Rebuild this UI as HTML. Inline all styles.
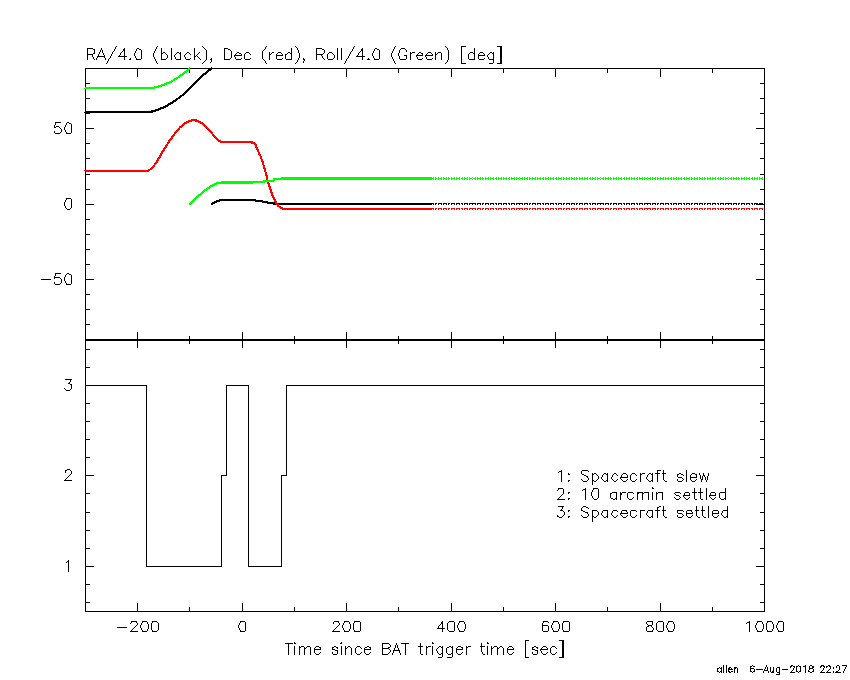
<!DOCTYPE html>
<html><head><meta charset="utf-8"><title>Spacecraft attitude</title>
<style>html,body{margin:0;padding:0;background:#fff}body{width:850px;height:680px;overflow:hidden;font-family:"Liberation Sans",sans-serif}svg{display:block}</style></head>
<body>
<svg role="img" aria-label="RA/4.0 (black), Dec (red), Roll/4.0 (Green) [deg] and spacecraft slew/settled flags versus time since BAT trigger time [sec]" width="850" height="680" viewBox="0 0 850 680" shape-rendering="crispEdges" fill="none" stroke-width="1">
<rect width="850" height="680" fill="#ffffff" stroke="none"/>
<path stroke="#000000" d="M116 46.5h1M157 46.5h1M202 46.5h1M266 46.5h1M295 46.5h1M354 46.5h1M395 46.5h1M445 46.5h1M462 46.5h4M497 46.5h3M203 47.5h1M296 47.5h1M446 47.5h1M88 48.5h5M137 48.5h2M204 48.5h1M225 48.5h3M317 48.5h5M375 48.5h2M401 48.5h4M93 49.5h1M123 49.5h1M139 49.5h2M205 49.5h1M228 49.5h2M264 49.5h1M322 49.5h2M361 49.5h1M377 49.5h2M400 49.5h1M405 49.5h1M123 50.5h1M230 50.5h1M263 50.5h1M361 50.5h1M113 51.5h1M122 51.5h1M351 51.5h1M360 51.5h1M121 52.5h1M163 52.5h2M177 52.5h2M187 52.5h2M199 52.5h1M237 52.5h2M246 52.5h3M272 52.5h2M278 52.5h3M288 52.5h2M329 52.5h3M359 52.5h1M412 52.5h3M419 52.5h2M428 52.5h3M438 52.5h3M470 52.5h3M480 52.5h3M490 52.5h2M93 53.5h1M162 53.5h1M165 53.5h1M176 53.5h1M179 53.5h1M186 53.5h1M189 53.5h1M198 53.5h1M236 53.5h1M239 53.5h2M245 53.5h1M249 53.5h1M271 53.5h1M277 53.5h1M281 53.5h1M287 53.5h1M290 53.5h1M323 53.5h1M328 53.5h1M332 53.5h1M411 53.5h1M418 53.5h1M421 53.5h1M427 53.5h1M431 53.5h1M437 53.5h1M469 53.5h1M473 53.5h1M479 53.5h1M483 53.5h1M489 53.5h1M492 53.5h1M88 54.5h5M166 54.5h1M175 54.5h1M185 54.5h1M190 54.5h1M197 54.5h1M250 54.5h1M270 54.5h1M286 54.5h1M317 54.5h6M333 54.5h1M436 54.5h1M488 54.5h1M196 55.5h1M234 55.5h8M276 55.5h7M404 55.5h2M416 55.5h7M425 55.5h8M478 55.5h7M97 56.5h8M118 56.5h6M125 56.5h2M195 56.5h1M197 56.5h1M356 56.5h6M363 56.5h2M198 57.5h1M109 58.5h1M166 58.5h1M190 58.5h1M199 58.5h1M230 58.5h1M241 58.5h1M250 58.5h1M282 58.5h1M323 58.5h1M333 58.5h1M347 58.5h1M422 58.5h1M432 58.5h1M484 58.5h1M94 59.5h1M129 59.5h2M136 59.5h5M162 59.5h4M176 59.5h4M186 59.5h4M200 59.5h1M210 59.5h1M225 59.5h5M236 59.5h5M245 59.5h5M263 59.5h1M277 59.5h5M286 59.5h5M303 59.5h2M324 59.5h1M328 59.5h5M367 59.5h3M374 59.5h5M400 59.5h6M418 59.5h4M427 59.5h5M469 59.5h5M479 59.5h5M489 59.5h4M205 60.5h1M264 60.5h1M204 61.5h1M203 62.5h1M210 62.5h1M296 62.5h1M446 62.5h1M106 63.5h1M157 63.5h1M202 63.5h1M266 63.5h1M295 63.5h1M344 63.5h1M395 63.5h1M445 63.5h1M462 63.5h4M489 63.5h4M497 63.5h3M85 68.5h103M190 68.5h575M208 69.5h4M207 70.5h4M206 71.5h2M205 72.5h3M203 73.5h4M202 74.5h4M201 75.5h3M200 76.5h3M199 77.5h3M198 78.5h3M197 79.5h3M196 80.5h3M195 81.5h3M194 82.5h3M86 83.5h4M193 83.5h3M760 83.5h4M192 84.5h3M191 85.5h3M190 86.5h3M189 87.5h3M188 88.5h3M187 89.5h3M186 90.5h3M185 91.5h3M184 92.5h3M183 93.5h3M182 94.5h3M180 95.5h4M179 96.5h3M178 97.5h3M86 98.5h4M176 98.5h4M760 98.5h4M175 99.5h3M173 100.5h4M172 101.5h4M170 102.5h4M168 103.5h5M167 104.5h4M165 105.5h4M163 106.5h5M160 107.5h6M158 108.5h6M155 109.5h6M151 110.5h8M86 111.5h70M84 112.5h1M86 112.5h67M86 113.5h4M760 113.5h4M55 122.5h6M67 122.5h2M69 123.5h2M56 126.5h3M55 127.5h1M59 127.5h1M60 128.5h1M86 128.5h8M756 128.5h8M60 132.5h1M55 133.5h5M66 133.5h5M86 143.5h4M760 143.5h4M86 158.5h4M760 158.5h4M86 174.5h4M760 174.5h4M86 189.5h4M760 189.5h4M66 198.5h5M219 199.5h37M216 200.5h47M214 201.5h6M255 201.5h13M212 202.5h5M262 202.5h13M211 203.5h4M267 203.5h8M278 203.5h156M435 203.5h2M438 203.5h4M443 203.5h4M448 203.5h2M451 203.5h4M456 203.5h4M461 203.5h2M464 203.5h4M469 203.5h7M477 203.5h4M482 203.5h2M485 203.5h4M490 203.5h4M495 203.5h2M498 203.5h4M503 203.5h4M508 203.5h2M511 203.5h4M516 203.5h7M524 203.5h4M529 203.5h2M532 203.5h4M537 203.5h4M542 203.5h2M545 203.5h4M550 203.5h4M555 203.5h2M558 203.5h4M563 203.5h2M566 203.5h4M571 203.5h4M576 203.5h2M579 203.5h4M584 203.5h4M589 203.5h2M592 203.5h4M597 203.5h7M605 203.5h4M610 203.5h2M613 203.5h4M618 203.5h4M623 203.5h2M626 203.5h4M631 203.5h4M636 203.5h2M639 203.5h4M644 203.5h7M652 203.5h4M657 203.5h2M660 203.5h4M665 203.5h4M670 203.5h2M673 203.5h4M678 203.5h4M683 203.5h2M686 203.5h4M691 203.5h2M694 203.5h4M699 203.5h4M704 203.5h2M707 203.5h4M712 203.5h4M717 203.5h2M720 203.5h4M725 203.5h7M733 203.5h4M738 203.5h2M741 203.5h4M746 203.5h4M751 203.5h2M754 203.5h4M759 203.5h4M86 204.5h8M211 204.5h1M273 204.5h3M279 204.5h153M756 204.5h8M66 208.5h1M70 208.5h1M67 209.5h3M86 219.5h4M760 219.5h4M86 234.5h4M760 234.5h4M86 249.5h4M760 249.5h4M86 264.5h4M760 264.5h4M55 273.5h6M67 273.5h2M66 274.5h1M69 274.5h2M54 277.5h6M60 278.5h1M41 279.5h10M86 279.5h8M756 279.5h8M60 283.5h1M55 284.5h5M66 284.5h5M86 294.5h4M760 294.5h4M86 309.5h4M760 309.5h4M86 324.5h4M760 324.5h4M85 339.5h680M85 340.5h680M86 349.5h4M760 349.5h4M86 367.5h4M760 367.5h4M65 379.5h7M68 383.5h2M70 384.5h1M86 385.5h60M227 385.5h21M286 385.5h478M64 388.5h1M65 389.5h1M70 389.5h1M66 390.5h4M86 403.5h4M760 403.5h4M86 421.5h4M760 421.5h4M86 439.5h4M760 439.5h4M86 457.5h4M760 457.5h4M67 469.5h3M66 470.5h1M70 470.5h1M582 470.5h6M658 470.5h3M559 471.5h2M588 471.5h1M558 472.5h1M594 473.5h2M604 473.5h2M614 473.5h2M623 473.5h3M632 473.5h3M642 473.5h3M649 473.5h2M655 473.5h2M658 473.5h2M662 473.5h1M664 473.5h2M679 473.5h2M692 473.5h3M70 474.5h1M568 474.5h2M582 474.5h2M593 474.5h1M596 474.5h1M603 474.5h1M606 474.5h1M613 474.5h1M616 474.5h1M622 474.5h1M626 474.5h1M631 474.5h1M635 474.5h1M641 474.5h1M648 474.5h1M651 474.5h1M678 474.5h1M681 474.5h2M691 474.5h1M695 474.5h1M69 475.5h1M86 475.5h8M222 475.5h4M282 475.5h4M584 475.5h2M597 475.5h1M617 475.5h1M636 475.5h1M683 475.5h1M704 475.5h1M756 475.5h8M68 476.5h1M586 476.5h2M67 477.5h1M620 477.5h8M678 477.5h4M690 477.5h7M66 478.5h1M682 478.5h1M581 479.5h1M597 479.5h1M602 479.5h1M612 479.5h1M617 479.5h1M621 479.5h1M627 479.5h1M636 479.5h1M647 479.5h1M683 479.5h1M696 479.5h1M64 480.5h8M568 480.5h2M582 480.5h1M587 480.5h1M593 480.5h1M596 480.5h1M603 480.5h1M606 480.5h1M613 480.5h1M616 480.5h1M622 480.5h1M626 480.5h1M631 480.5h1M635 480.5h1M648 480.5h1M651 480.5h1M664 480.5h1M682 480.5h1M691 480.5h1M695 480.5h1M583 481.5h4M594 481.5h2M604 481.5h2M614 481.5h2M623 481.5h3M632 481.5h3M649 481.5h2M665 481.5h2M678 481.5h4M692 481.5h3M558 488.5h5M593 488.5h5M652 488.5h2M583 489.5h2M557 490.5h1M582 490.5h1M568 492.5h2M612 492.5h4M622 492.5h4M628 492.5h5M638 492.5h4M644 492.5h4M658 492.5h4M675 492.5h5M685 492.5h4M692 492.5h2M695 492.5h2M698 492.5h2M701 492.5h2M711 492.5h4M720 492.5h5M86 493.5h4M611 493.5h1M621 493.5h1M633 493.5h1M638 493.5h1M643 493.5h1M657 493.5h1M674 493.5h1M680 493.5h1M760 493.5h4M562 494.5h1M621 494.5h1M675 494.5h1M561 495.5h1M676 495.5h3M683 495.5h7M709 495.5h7M560 496.5h1M679 496.5h1M559 497.5h1M633 497.5h1M674 497.5h1M680 497.5h1M684 497.5h1M689 497.5h1M710 497.5h1M715 497.5h1M568 498.5h2M593 498.5h1M597 498.5h1M611 498.5h2M615 498.5h1M628 498.5h1M632 498.5h1M675 498.5h1M679 498.5h1M685 498.5h1M688 498.5h1M711 498.5h1M714 498.5h1M720 498.5h1M724 498.5h1M557 499.5h8M594 499.5h3M613 499.5h2M629 499.5h3M676 499.5h3M686 499.5h2M695 499.5h2M701 499.5h2M712 499.5h2M721 499.5h3M558 506.5h6M583 506.5h3M659 506.5h2M582 507.5h1M586 507.5h2M658 507.5h1M588 508.5h1M560 510.5h3M568 510.5h2M582 510.5h1M593 510.5h4M603 510.5h4M613 510.5h4M622 510.5h5M631 510.5h5M641 510.5h4M648 510.5h4M655 510.5h2M658 510.5h2M662 510.5h1M664 510.5h2M677 510.5h6M687 510.5h5M695 510.5h1M697 510.5h2M701 510.5h1M703 510.5h2M713 510.5h5M723 510.5h4M563 511.5h1M583 511.5h2M597 511.5h1M617 511.5h1M636 511.5h1M683 511.5h1M86 512.5h4M585 512.5h3M760 512.5h4M620 513.5h8M678 513.5h4M686 513.5h7M712 513.5h7M682 514.5h1M563 515.5h1M581 515.5h1M597 515.5h1M602 515.5h1M612 515.5h1M617 515.5h1M621 515.5h1M627 515.5h1M636 515.5h1M647 515.5h1M683 515.5h1M692 515.5h1M718 515.5h1M722 515.5h1M557 516.5h2M562 516.5h1M568 516.5h2M582 516.5h1M587 516.5h1M593 516.5h1M596 516.5h1M603 516.5h1M606 516.5h1M613 516.5h1M616 516.5h1M622 516.5h1M626 516.5h1M631 516.5h1M635 516.5h1M648 516.5h1M651 516.5h1M664 516.5h1M682 516.5h1M687 516.5h1M691 516.5h1M697 516.5h1M703 516.5h1M713 516.5h1M717 516.5h1M723 516.5h1M726 516.5h1M559 517.5h3M583 517.5h4M594 517.5h2M604 517.5h2M614 517.5h2M623 517.5h3M632 517.5h3M649 517.5h2M665 517.5h2M678 517.5h4M688 517.5h3M698 517.5h2M704 517.5h2M714 517.5h3M724 517.5h2M86 530.5h4M760 530.5h4M86 548.5h4M760 548.5h4M67 561.5h1M66 562.5h1M86 566.5h8M147 566.5h74M249 566.5h32M756 566.5h8M86 584.5h4M760 584.5h4M86 602.5h4M760 602.5h4M85 611.5h680M131 621.5h6M142 621.5h5M152 621.5h5M240 621.5h5M334 621.5h5M344 621.5h5M354 621.5h6M449 621.5h5M459 621.5h5M543 621.5h5M553 621.5h5M563 621.5h6M647 621.5h6M658 621.5h5M668 621.5h5M757 621.5h5M767 621.5h5M778 621.5h5M157 622.5h1M441 622.5h1M448 622.5h1M548 622.5h1M657 622.5h1M747 622.5h2M130 623.5h1M441 623.5h1M746 623.5h1M440 624.5h1M647 624.5h1M136 625.5h1M338 625.5h1M439 625.5h1M543 625.5h5M648 625.5h4M135 626.5h1M337 626.5h1M647 626.5h2M117 627.5h10M134 627.5h1M336 627.5h1M652 627.5h1M133 628.5h1M335 628.5h1M437 628.5h5M443 628.5h2M132 629.5h1M334 629.5h1M157 630.5h1M448 630.5h1M657 630.5h1M130 631.5h8M142 631.5h5M152 631.5h5M240 631.5h5M332 631.5h8M344 631.5h5M354 631.5h6M449 631.5h5M459 631.5h5M543 631.5h5M553 631.5h5M563 631.5h6M647 631.5h6M658 631.5h5M668 631.5h5M757 631.5h5M767 631.5h5M778 631.5h5M526 640.5h3M559 640.5h3M285 643.5h3M289 643.5h4M294 643.5h2M340 643.5h2M383 643.5h6M401 643.5h4M406 643.5h3M432 643.5h2M487 643.5h2M389 644.5h1M301 646.5h3M307 646.5h3M316 646.5h3M334 646.5h2M348 646.5h2M357 646.5h3M367 646.5h2M418 646.5h2M421 646.5h2M428 646.5h3M439 646.5h2M449 646.5h2M458 646.5h3M468 646.5h3M480 646.5h1M482 646.5h3M494 646.5h3M500 646.5h2M509 646.5h3M534 646.5h2M543 646.5h3M552 646.5h3M300 647.5h1M306 647.5h1M315 647.5h1M319 647.5h1M333 647.5h1M336 647.5h2M347 647.5h1M350 647.5h1M356 647.5h1M360 647.5h1M365 647.5h2M369 647.5h1M388 647.5h2M427 647.5h1M438 647.5h1M441 647.5h1M447 647.5h2M451 647.5h1M457 647.5h1M461 647.5h1M467 647.5h1M493 647.5h1M499 647.5h1M502 647.5h1M508 647.5h1M512 647.5h1M533 647.5h1M536 647.5h2M542 647.5h1M546 647.5h1M551 647.5h1M555 647.5h1M305 648.5h1M346 648.5h1M361 648.5h1M383 648.5h6M437 648.5h1M492 648.5h1M498 648.5h1M556 648.5h1M314 649.5h7M332 649.5h3M364 649.5h7M389 649.5h1M456 649.5h7M507 649.5h7M532 649.5h3M540 649.5h8M335 650.5h2M393 650.5h7M535 650.5h2M320 652.5h1M361 652.5h1M370 652.5h1M389 652.5h1M462 652.5h1M513 652.5h1M547 652.5h1M556 652.5h1M315 653.5h1M319 653.5h1M356 653.5h1M360 653.5h1M365 653.5h1M369 653.5h1M388 653.5h1M438 653.5h1M441 653.5h1M447 653.5h1M451 653.5h1M457 653.5h1M461 653.5h1M508 653.5h1M512 653.5h1M542 653.5h1M546 653.5h1M551 653.5h1M555 653.5h1M316 654.5h3M333 654.5h4M357 654.5h3M366 654.5h3M383 654.5h5M421 654.5h2M439 654.5h2M448 654.5h3M458 654.5h3M483 654.5h2M509 654.5h3M533 654.5h4M543 654.5h3M552 654.5h3M438 657.5h4M447 657.5h5M526 657.5h3M559 657.5h3M752 665.5h1M791 665.5h2M798 665.5h1M810 665.5h2M821 665.5h3M828 665.5h2M837 665.5h2M842 665.5h5M751 666.5h1M753 666.5h2M790 666.5h2M793 666.5h2M797 666.5h1M799 666.5h1M803 666.5h2M813 666.5h1M820 666.5h2M823 666.5h2M826 666.5h2M829 666.5h1M719 667.5h1M730 667.5h1M735 667.5h2M777 667.5h2M813 667.5h1M718 668.5h1M720 668.5h1M735 668.5h1M751 668.5h3M809 668.5h4M728 669.5h5M756 669.5h7M782 669.5h6M829 669.5h1M764 670.5h4M792 670.5h1M822 670.5h1M828 670.5h1M838 670.5h1M718 671.5h1M720 671.5h1M729 671.5h1M731 671.5h2M751 671.5h1M753 671.5h1M772 671.5h1M797 671.5h1M799 671.5h1M808 671.5h2M812 671.5h1M836 671.5h2M719 672.5h1M729 672.5h2M752 672.5h1M771 672.5h2M777 672.5h2M790 672.5h5M798 672.5h1M810 672.5h2M820 672.5h5M826 672.5h5M835 672.5h6M776 674.5h3M54.5 125v3M54.5 131v2M54.5 276v1M54.5 278v1M54.5 282v2M55.5 123v2M55.5 274v2M61.5 129v3M61.5 279v4M64.5 127v3M64.5 202v4M64.5 277v4M65.5 125v2M65.5 130v2M65.5 200v2M65.5 206v2M65.5 275v2M65.5 281v2M65.5 470v3M65.5 479v1M66.5 123v2M66.5 132v1M66.5 199v1M66.5 283v1M68.5 560v12M69.5 382v1M70.5 380v2M71.5 124v9M71.5 199v9M71.5 275v9M71.5 384v5M71.5 471v3M85.5 69v18M85.5 89v81M85.5 172v167M85.5 341v270M87.5 48v12M92.5 55v2M93.5 57v2M94.5 49v5M96.5 58v2M97.5 57v1M98.5 54v2M99.5 52v2M100.5 50v2M101.5 48v2M102.5 50v3M103.5 53v2M104.5 55v1M104.5 57v1M105.5 58v2M107.5 61v2M108.5 59v2M110.5 56v2M111.5 54v2M112.5 52v2M114.5 49v2M115.5 47v2M119.5 55v1M120.5 53v2M124.5 48v12M130.5 58v1M131.5 622v1M131.5 630v1M134.5 53v3M135.5 51v2M135.5 56v2M136.5 49v2M136.5 58v1M136.5 622v1M137.5 69v8M137.5 332v7M137.5 341v7M137.5 603v8M137.5 623v2M140.5 625v3M141.5 50v9M141.5 623v2M141.5 628v2M142.5 622v1M142.5 630v1M146.5 385v182M147.5 622v2M147.5 629v2M148.5 624v5M151.5 623v7M152.5 622v1M152.5 630v1M153.5 53v4M154.5 51v2M154.5 57v2M155.5 49v2M155.5 59v2M156.5 47v2M156.5 61v2M158.5 623v7M161.5 48v12M167.5 55v3M171.5 48v12M174.5 55v2M175.5 57v2M180.5 52v8M184.5 55v2M185.5 57v2M189.5 70v3M189.5 336v3M189.5 341v3M189.5 607v4M194.5 48v12M206.5 50v10M208.5 71v1M211.5 58v4M211.5 67v1M212.5 204v1M221.5 475v92M224.5 48v12M226.5 385v91M231.5 51v7M234.5 56v1M235.5 54v1M235.5 57v2M238.5 625v3M239.5 623v2M239.5 628v2M240.5 622v1M240.5 630v1M241.5 54v1M242.5 69v8M242.5 332v7M242.5 341v7M242.5 603v8M244.5 54v5M245.5 622v9M248.5 385v182M262.5 51v8M265.5 47v2M265.5 61v2M269.5 52v8M276.5 54v1M276.5 56v3M281.5 475v92M282.5 54v1M285.5 54v5M286.5 386v90M288.5 643v12M291.5 48v12M294.5 69v4M294.5 336v3M294.5 341v3M294.5 607v4M294.5 642v1M294.5 646v9M297.5 48v2M297.5 60v2M298.5 50v3M298.5 58v2M299.5 53v5M299.5 646v9M303.5 58v1M303.5 61v2M304.5 60v1M304.5 647v8M310.5 647v8M314.5 648v1M314.5 650v3M316.5 48v12M320.5 647v2M321.5 55v1M322.5 56v2M324.5 50v3M327.5 54v5M332.5 647v2M332.5 652v2M333.5 622v2M333.5 630v1M334.5 55v3M337.5 48v12M337.5 648v1M337.5 650v4M338.5 622v1M339.5 623v2M341.5 48v12M341.5 642v1M341.5 646v9M342.5 625v3M343.5 623v2M343.5 628v2M344.5 622v1M344.5 630v1M345.5 61v2M345.5 646v9M346.5 59v2M346.5 69v8M346.5 332v7M346.5 341v7M346.5 603v8M348.5 56v2M349.5 54v2M349.5 622v2M349.5 629v2M350.5 52v2M350.5 624v5M351.5 648v7M352.5 49v2M353.5 47v2M353.5 623v7M354.5 622v1M354.5 630v1M355.5 648v5M357.5 55v1M358.5 53v2M360.5 622v9M362.5 48v12M364.5 648v1M364.5 650v3M368.5 58v1M370.5 647v2M372.5 53v3M373.5 51v2M373.5 56v2M374.5 49v2M374.5 58v1M379.5 50v9M382.5 643v12M390.5 645v2M390.5 650v2M391.5 53v4M392.5 51v2M392.5 57v2M392.5 653v2M393.5 49v2M393.5 59v2M393.5 651v2M394.5 47v2M394.5 61v2M394.5 648v2M395.5 645v3M396.5 643v2M397.5 645v3M398.5 53v3M398.5 69v4M398.5 336v3M398.5 341v3M398.5 607v4M398.5 648v2M399.5 50v3M399.5 56v3M399.5 651v2M400.5 653v2M405.5 643v12M406.5 50v2M406.5 55v4M410.5 52v8M416.5 56v1M417.5 54v1M417.5 57v2M420.5 643v11M422.5 53v2M425.5 56v1M426.5 54v1M426.5 57v2M426.5 646v9M432.5 54v1M432.5 642v1M432.5 646v9M433.5 204v1M435.5 52v8M435.5 204v1M436.5 649v2M437.5 651v2M438.5 204v1M438.5 626v2M441.5 53v7M441.5 204v1M442.5 621v11M442.5 646v11M443.5 204v1M446.5 204v1M446.5 648v5M447.5 48v2M447.5 60v2M447.5 623v7M448.5 50v10M448.5 204v1M451.5 69v8M451.5 204v1M451.5 332v7M451.5 341v7M451.5 603v8M452.5 646v11M454.5 204v1M454.5 622v9M456.5 204v1M456.5 648v1M456.5 650v3M457.5 625v3M458.5 623v2M458.5 628v2M459.5 204v1M459.5 622v1M459.5 630v1M461.5 46v18M462.5 204v1M462.5 647v2M464.5 204v1M464.5 622v2M464.5 629v2M465.5 624v5M466.5 646v9M467.5 204v1M468.5 54v5M469.5 204v1M472.5 204v1M474.5 48v12M475.5 204v1M477.5 204v1M478.5 54v1M478.5 56v3M480.5 204v1M481.5 643v9M482.5 204v1M482.5 652v2M484.5 54v1M485.5 204v1M487.5 55v2M487.5 642v1M487.5 646v9M488.5 57v2M488.5 204v1M490.5 204v1M491.5 646v9M493.5 52v11M493.5 204v1M496.5 204v1M497.5 647v8M498.5 204v1M500.5 46v18M501.5 46v18M501.5 204v1M503.5 69v4M503.5 204v1M503.5 336v3M503.5 341v3M503.5 607v4M503.5 648v7M506.5 204v1M507.5 648v1M507.5 650v3M509.5 204v1M511.5 204v1M513.5 648v1M514.5 204v1M516.5 204v1M519.5 204v1M522.5 204v1M524.5 204v1M525.5 640v18M527.5 204v1M529.5 204v1M532.5 204v1M532.5 647v2M532.5 652v2M535.5 204v1M537.5 204v1M537.5 648v1M537.5 650v4M540.5 204v1M540.5 650v1M541.5 648v1M541.5 651v2M542.5 623v8M543.5 204v1M543.5 622v1M545.5 204v1M547.5 648v1M548.5 204v1M548.5 626v5M550.5 204v1M550.5 648v5M551.5 625v3M552.5 623v2M552.5 628v2M553.5 204v1M553.5 622v1M553.5 630v1M555.5 69v8M555.5 332v7M555.5 341v7M555.5 603v8M556.5 204v1M557.5 515v1M558.5 204v1M558.5 489v1M558.5 498v1M558.5 622v2M558.5 629v2M559.5 624v5M561.5 204v1M561.5 470v12M561.5 509v1M562.5 507v2M562.5 623v7M562.5 640v18M563.5 204v1M563.5 489v5M563.5 622v1M563.5 630v1M563.5 640v18M564.5 512v3M566.5 204v1M568.5 473v1M568.5 481v1M568.5 493v1M568.5 499v1M568.5 511v1M568.5 517v1M569.5 204v1M569.5 622v9M571.5 204v1M574.5 204v1M576.5 204v1M579.5 204v1M581.5 471v3M581.5 508v3M582.5 204v1M584.5 204v1M585.5 488v12M587.5 204v1M587.5 477v1M587.5 513v1M588.5 478v2M588.5 514v2M590.5 204v1M591.5 492v4M592.5 204v1M592.5 473v12M592.5 490v2M592.5 496v2M592.5 510v12M593.5 489v1M595.5 204v1M597.5 204v1M598.5 476v3M598.5 489v9M598.5 512v3M600.5 204v1M601.5 477v2M601.5 513v2M602.5 475v2M602.5 511v2M603.5 204v1M605.5 204v1M607.5 69v4M607.5 336v3M607.5 341v3M607.5 473v9M607.5 510v8M607.5 607v4M608.5 204v1M610.5 204v1M610.5 493v5M611.5 477v2M611.5 513v2M612.5 475v2M612.5 511v2M613.5 204v1M616.5 204v1M616.5 492v8M618.5 204v1M620.5 478v1M620.5 492v8M620.5 514v1M621.5 204v1M621.5 475v2M621.5 511v2M624.5 204v1M626.5 204v1M626.5 511v1M627.5 475v2M627.5 493v5M627.5 512v1M629.5 204v1M630.5 475v5M630.5 511v5M631.5 204v1M634.5 204v1M637.5 204v1M637.5 492v8M639.5 204v1M640.5 473v9M640.5 510v8M642.5 204v1M642.5 492v8M644.5 204v1M646.5 477v2M646.5 513v2M646.5 622v2M646.5 627v4M647.5 204v1M647.5 475v2M647.5 511v2M648.5 492v8M650.5 204v1M651.5 626v1M652.5 204v1M652.5 473v9M652.5 487v1M652.5 492v8M652.5 510v8M652.5 622v3M652.5 630v1M653.5 628v2M655.5 204v1M656.5 492v8M656.5 623v7M657.5 204v1M657.5 470v12M657.5 507v11M660.5 69v8M660.5 204v1M660.5 332v7M660.5 341v7M660.5 603v8M662.5 492v8M663.5 204v1M663.5 470v10M663.5 506v10M663.5 622v9M665.5 204v1M666.5 625v3M667.5 623v2M667.5 628v2M668.5 204v1M668.5 622v1M668.5 630v1M671.5 204v1M673.5 204v1M673.5 622v2M673.5 629v2M674.5 624v5M676.5 204v1M677.5 474v3M677.5 479v2M677.5 511v2M677.5 515v2M678.5 204v1M681.5 204v1M683.5 496v1M684.5 204v1M684.5 493v2M686.5 204v1M686.5 470v12M686.5 511v2M686.5 514v2M689.5 204v1M689.5 493v2M690.5 475v2M690.5 478v2M691.5 204v1M691.5 511v1M692.5 512v1M694.5 204v1M694.5 488v11M696.5 474v3M696.5 506v10M697.5 204v1M699.5 204v1M699.5 473v2M700.5 475v4M700.5 488v11M701.5 479v3M702.5 204v1M702.5 476v4M702.5 506v10M703.5 473v3M704.5 204v1M704.5 476v1M705.5 477v3M706.5 480v2M706.5 488v12M707.5 204v1M707.5 476v4M708.5 473v3M708.5 506v12M709.5 496v1M710.5 204v1M710.5 493v2M712.5 69v4M712.5 204v1M712.5 336v3M712.5 341v3M712.5 511v2M712.5 514v2M712.5 607v4M715.5 204v1M715.5 493v2M717.5 668v4M718.5 204v1M718.5 511v2M719.5 493v5M720.5 204v1M721.5 513v2M721.5 667v6M722.5 511v2M723.5 204v1M723.5 665v8M725.5 204v1M725.5 488v12M726.5 665v8M727.5 506v12M728.5 204v1M728.5 668v1M728.5 670v2M729.5 667v2M731.5 204v1M731.5 668v1M733.5 204v1M734.5 667v6M736.5 204v1M737.5 668v5M738.5 204v1M741.5 204v1M744.5 204v1M746.5 204v1M749.5 204v1M749.5 621v11M750.5 666v6M752.5 204v1M754.5 204v1M754.5 669v3M755.5 625v3M756.5 623v2M756.5 628v2M757.5 622v1M757.5 630v1M762.5 622v2M762.5 629v2M763.5 624v5M763.5 671v2M764.5 69v270M764.5 341v270M764.5 669v1M765.5 667v2M766.5 623v7M766.5 665v2M767.5 622v1M767.5 630v1M767.5 667v3M768.5 671v2M770.5 667v5M772.5 622v2M772.5 629v2M773.5 624v5M773.5 667v6M776.5 625v3M776.5 668v4M777.5 623v2M777.5 628v2M778.5 622v1M778.5 630v1M779.5 667v8M783.5 622v9M790.5 667v1M791.5 671v1M793.5 668v2M794.5 667v1M796.5 666v6M800.5 666v6M805.5 665v8M808.5 670v1M809.5 666v2M809.5 669v1M812.5 666v2M813.5 669v3M820.5 667v1M821.5 671v1M823.5 668v2M824.5 667v1M826.5 667v1M827.5 671v1M830.5 666v3M833.5 667v2M833.5 671v2M836.5 666v2M839.5 666v4M843.5 671v2M844.5 669v2M845.5 667v2M846.5 666v1"/>
<path stroke="#ff0000" d="M191 119.5h6M188 120.5h11M186 121.5h6M195 121.5h6M184 122.5h5M198 122.5h5M183 123.5h4M200 123.5h4M182 124.5h3M202 124.5h3M181 125.5h3M203 125.5h3M179 126.5h4M204 126.5h3M180 127.5h2M205 127.5h3M206 128.5h3M177 129.5h2M207 129.5h3M176 130.5h3M208 130.5h3M175 131.5h3M209 131.5h3M175 132.5h2M210 132.5h2M173 135.5h1M213 135.5h2M173 136.5h1M213 136.5h3M214 137.5h3M170 138.5h1M215 138.5h3M170 139.5h1M216 139.5h3M170 140.5h1M217 140.5h4M218 141.5h35M220 142.5h35M251 143.5h5M254 144.5h1M155 162.5h1M155 163.5h1M152 166.5h2M151 167.5h3M150 168.5h3M148 169.5h4M84 170.5h66M85 171.5h64M267 182.5h1M267 183.5h1M278 204.5h1M277 206.5h4M279 207.5h4M280 208.5h154M435 208.5h2M438 208.5h4M443 208.5h4M448 208.5h2M451 208.5h4M456 208.5h4M461 208.5h2M464 208.5h4M469 208.5h7M477 208.5h4M482 208.5h2M485 208.5h4M490 208.5h4M495 208.5h2M498 208.5h4M503 208.5h4M508 208.5h2M511 208.5h4M516 208.5h7M524 208.5h4M529 208.5h2M532 208.5h4M537 208.5h4M542 208.5h2M545 208.5h4M550 208.5h4M555 208.5h2M558 208.5h4M563 208.5h2M566 208.5h4M571 208.5h4M576 208.5h2M579 208.5h4M584 208.5h4M589 208.5h2M592 208.5h4M597 208.5h7M605 208.5h4M610 208.5h2M613 208.5h4M618 208.5h4M623 208.5h2M626 208.5h4M631 208.5h4M636 208.5h2M639 208.5h4M644 208.5h7M652 208.5h4M657 208.5h2M660 208.5h4M665 208.5h4M670 208.5h2M673 208.5h4M678 208.5h4M683 208.5h2M686 208.5h4M691 208.5h2M694 208.5h4M699 208.5h4M704 208.5h2M707 208.5h4M712 208.5h4M717 208.5h2M720 208.5h4M725 208.5h7M733 208.5h4M738 208.5h2M741 208.5h4M746 208.5h4M751 208.5h2M754 208.5h4M759 208.5h4M282 209.5h150M153.5 165v1M154.5 163v4M155.5 164v1M156.5 160v4M157.5 158v5M158.5 157v4M159.5 155v4M160.5 153v5M161.5 151v5M162.5 150v4M163.5 148v4M164.5 147v4M165.5 145v4M166.5 144v4M167.5 142v4M168.5 140v4M169.5 139v4M171.5 136v4M172.5 135v4M173.5 134v1M174.5 132v4M175.5 133v1M178.5 128v1M179.5 127v3M211.5 133v1M212.5 132v4M213.5 134v1M255.5 144v4M256.5 144v6M257.5 147v5M258.5 149v6M259.5 152v4M260.5 154v5M261.5 156v6M262.5 159v6M263.5 161v8M264.5 165v7M265.5 168v8M266.5 172v8M267.5 175v5M268.5 182v5M269.5 183v7M270.5 186v7M271.5 189v7M272.5 192v6M273.5 195v5M274.5 197v5M275.5 199v5M276.5 201v4M277.5 203v3M278.5 205v1M433.5 209v1M435.5 209v1M438.5 209v1M441.5 209v1M443.5 209v1M446.5 209v1M448.5 209v1M451.5 209v1M454.5 209v1M456.5 209v1M459.5 209v1M462.5 209v1M464.5 209v1M467.5 209v1M469.5 209v1M472.5 209v1M475.5 209v1M477.5 209v1M480.5 209v1M482.5 209v1M485.5 209v1M488.5 209v1M490.5 209v1M493.5 209v1M496.5 209v1M498.5 209v1M501.5 209v1M503.5 209v1M506.5 209v1M509.5 209v1M511.5 209v1M514.5 209v1M516.5 209v1M519.5 209v1M522.5 209v1M524.5 209v1M527.5 209v1M529.5 209v1M532.5 209v1M535.5 209v1M537.5 209v1M540.5 209v1M543.5 209v1M545.5 209v1M548.5 209v1M550.5 209v1M553.5 209v1M556.5 209v1M558.5 209v1M561.5 209v1M563.5 209v1M566.5 209v1M569.5 209v1M571.5 209v1M574.5 209v1M576.5 209v1M579.5 209v1M582.5 209v1M584.5 209v1M587.5 209v1M590.5 209v1M592.5 209v1M595.5 209v1M597.5 209v1M600.5 209v1M603.5 209v1M605.5 209v1M608.5 209v1M610.5 209v1M613.5 209v1M616.5 209v1M618.5 209v1M621.5 209v1M624.5 209v1M626.5 209v1M629.5 209v1M631.5 209v1M634.5 209v1M637.5 209v1M639.5 209v1M642.5 209v1M644.5 209v1M647.5 209v1M650.5 209v1M652.5 209v1M655.5 209v1M657.5 209v1M660.5 209v1M663.5 209v1M665.5 209v1M668.5 209v1M671.5 209v1M673.5 209v1M676.5 209v1M678.5 209v1M681.5 209v1M684.5 209v1M686.5 209v1M689.5 209v1M691.5 209v1M694.5 209v1M697.5 209v1M699.5 209v1M702.5 209v1M704.5 209v1M707.5 209v1M710.5 209v1M712.5 209v1M715.5 209v1M718.5 209v1M720.5 209v1M723.5 209v1M725.5 209v1M728.5 209v1M731.5 209v1M733.5 209v1M736.5 209v1M738.5 209v1M741.5 209v1M744.5 209v1M746.5 209v1M749.5 209v1M752.5 209v1M754.5 209v1M757.5 209v1M759.5 209v1M762.5 209v1"/>
<path stroke="#00ff00" d="M187 69.5h3M186 70.5h3M184 71.5h4M183 72.5h4M182 73.5h3M180 74.5h4M179 75.5h4M178 76.5h3M176 77.5h4M174 78.5h4M173 79.5h4M171 80.5h4M169 81.5h4M166 82.5h6M164 83.5h6M161 84.5h6M158 85.5h7M154 86.5h8M85 87.5h74M84 88.5h71M281 177.5h151M472 177.5h1M519 177.5h1M600 177.5h1M647 177.5h1M728 177.5h1M273 178.5h161M436 178.5h1M438 178.5h4M443 178.5h4M449 178.5h1M451 178.5h4M456 178.5h4M461 178.5h1M464 178.5h4M469 178.5h3M473 178.5h3M477 178.5h4M483 178.5h1M485 178.5h4M490 178.5h4M495 178.5h1M498 178.5h4M503 178.5h4M508 178.5h1M511 178.5h4M516 178.5h3M520 178.5h3M524 178.5h4M530 178.5h1M532 178.5h4M537 178.5h4M542 178.5h1M545 178.5h4M550 178.5h4M555 178.5h1M558 178.5h4M564 178.5h1M566 178.5h4M571 178.5h4M577 178.5h1M579 178.5h4M584 178.5h4M589 178.5h1M592 178.5h4M597 178.5h3M601 178.5h3M605 178.5h4M611 178.5h1M613 178.5h4M618 178.5h4M623 178.5h1M626 178.5h4M631 178.5h4M636 178.5h1M639 178.5h4M644 178.5h3M648 178.5h3M652 178.5h4M658 178.5h1M660 178.5h4M665 178.5h4M670 178.5h1M673 178.5h4M678 178.5h4M683 178.5h1M686 178.5h4M692 178.5h1M694 178.5h4M699 178.5h4M705 178.5h1M707 178.5h4M712 178.5h4M717 178.5h1M720 178.5h4M725 178.5h3M729 178.5h3M733 178.5h4M739 178.5h1M741 178.5h4M746 178.5h4M751 178.5h1M754 178.5h4M759 178.5h4M273 179.5h159M472 179.5h1M519 179.5h1M600 179.5h1M647 179.5h1M728 179.5h1M263 180.5h12M221 181.5h53M216 182.5h49M214 183.5h39M212 184.5h5M210 185.5h5M209 186.5h4M207 187.5h4M206 188.5h4M204 189.5h4M203 190.5h4M202 191.5h3M201 192.5h3M200 193.5h3M198 194.5h4M197 195.5h4M196 196.5h3M195 197.5h3M194 198.5h3M193 199.5h3M192 200.5h3M191 201.5h3M190 202.5h3M189 203.5h3M189 204.5h1M188.5 68v1M189.5 67v2M190.5 204v1M433.5 177v1M433.5 179v1M435.5 177v3M438.5 177v1M438.5 179v1M441.5 177v1M441.5 179v1M443.5 177v1M443.5 179v1M446.5 177v1M446.5 179v1M448.5 177v3M451.5 177v1M451.5 179v1M454.5 177v1M454.5 179v1M456.5 177v1M456.5 179v1M459.5 177v1M459.5 179v1M462.5 177v3M464.5 177v1M464.5 179v1M467.5 177v1M467.5 179v1M469.5 177v1M469.5 179v1M475.5 177v1M475.5 179v1M477.5 177v1M477.5 179v1M480.5 177v1M480.5 179v1M482.5 177v3M485.5 177v1M485.5 179v1M488.5 177v1M488.5 179v1M490.5 177v1M490.5 179v1M493.5 177v1M493.5 179v1M496.5 177v3M498.5 177v1M498.5 179v1M501.5 177v1M501.5 179v1M503.5 177v1M503.5 179v1M506.5 177v1M506.5 179v1M509.5 177v3M511.5 177v1M511.5 179v1M514.5 177v1M514.5 179v1M516.5 177v1M516.5 179v1M522.5 177v1M522.5 179v1M524.5 177v1M524.5 179v1M527.5 177v1M527.5 179v1M529.5 177v3M532.5 177v1M532.5 179v1M535.5 177v1M535.5 179v1M537.5 177v1M537.5 179v1M540.5 177v1M540.5 179v1M543.5 177v3M545.5 177v1M545.5 179v1M548.5 177v1M548.5 179v1M550.5 177v1M550.5 179v1M553.5 177v1M553.5 179v1M556.5 177v3M558.5 177v1M558.5 179v1M561.5 177v1M561.5 179v1M563.5 177v3M566.5 177v1M566.5 179v1M569.5 177v1M569.5 179v1M571.5 177v1M571.5 179v1M574.5 177v1M574.5 179v1M576.5 177v3M579.5 177v1M579.5 179v1M582.5 177v1M582.5 179v1M584.5 177v1M584.5 179v1M587.5 177v1M587.5 179v1M590.5 177v3M592.5 177v1M592.5 179v1M595.5 177v1M595.5 179v1M597.5 177v1M597.5 179v1M603.5 177v1M603.5 179v1M605.5 177v1M605.5 179v1M608.5 177v1M608.5 179v1M610.5 177v3M613.5 177v1M613.5 179v1M616.5 177v1M616.5 179v1M618.5 177v1M618.5 179v1M621.5 177v1M621.5 179v1M624.5 177v3M626.5 177v1M626.5 179v1M629.5 177v1M629.5 179v1M631.5 177v1M631.5 179v1M634.5 177v1M634.5 179v1M637.5 177v3M639.5 177v1M639.5 179v1M642.5 177v1M642.5 179v1M644.5 177v1M644.5 179v1M650.5 177v1M650.5 179v1M652.5 177v1M652.5 179v1M655.5 177v1M655.5 179v1M657.5 177v3M660.5 177v1M660.5 179v1M663.5 177v1M663.5 179v1M665.5 177v1M665.5 179v1M668.5 177v1M668.5 179v1M671.5 177v3M673.5 177v1M673.5 179v1M676.5 177v1M676.5 179v1M678.5 177v1M678.5 179v1M681.5 177v1M681.5 179v1M684.5 177v3M686.5 177v1M686.5 179v1M689.5 177v1M689.5 179v1M691.5 177v3M694.5 177v1M694.5 179v1M697.5 177v1M697.5 179v1M699.5 177v1M699.5 179v1M702.5 177v1M702.5 179v1M704.5 177v3M707.5 177v1M707.5 179v1M710.5 177v1M710.5 179v1M712.5 177v1M712.5 179v1M715.5 177v1M715.5 179v1M718.5 177v3M720.5 177v1M720.5 179v1M723.5 177v1M723.5 179v1M725.5 177v1M725.5 179v1M731.5 177v1M731.5 179v1M733.5 177v1M733.5 179v1M736.5 177v1M736.5 179v1M738.5 177v3M741.5 177v1M741.5 179v1M744.5 177v1M744.5 179v1M746.5 177v1M746.5 179v1M749.5 177v1M749.5 179v1M752.5 177v3M754.5 177v1M754.5 179v1M757.5 177v1M757.5 179v1M759.5 177v1M759.5 179v1M762.5 177v1M762.5 179v1"/>
</svg>
</body></html>
